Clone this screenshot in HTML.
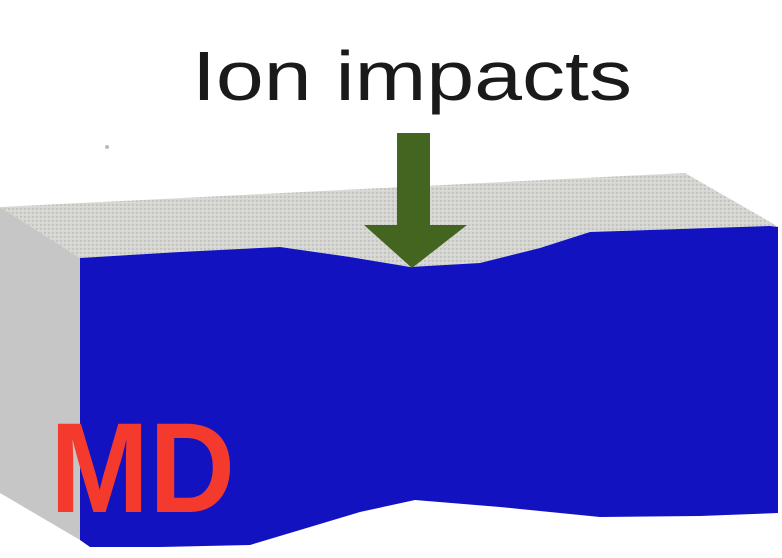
<!DOCTYPE html>
<html><head><meta charset="utf-8"><style>
html,body{margin:0;padding:0;background:#fff;width:782px;height:558px;overflow:hidden}
</style></head><body>
<svg width="782" height="558" viewBox="0 0 782 558">
  <defs>
    <pattern id="grain" width="4" height="4" patternUnits="userSpaceOnUse">
      <rect width="4" height="4" fill="#d6d6d2"/>
      <rect x="0" y="0" width="2" height="2" fill="#c4c4c0"/>
      <rect x="2" y="2" width="1" height="1" fill="#e6e6e2"/>
    </pattern>
  </defs>
  <text x="192" y="100" textLength="440" lengthAdjust="spacingAndGlyphs" font-family="Liberation Sans, sans-serif" font-size="70" fill="#1a1a1a">Ion impacts</text>
  <circle cx="107" cy="147" r="2" fill="#bbb"/>
  <polygon points="0,207 685,173 772,223 778,227 680,229 590,232 540,248 480,263 410,267 350,257 280,247 80,258" fill="url(#grain)"/>
  <polygon points="0,207 80,258 80,540 0,493" fill="#c6c6c6"/>
  <polygon points="80,258 180,252 280,247 350,257 410,267 480,263 540,248 590,232 680,229 770,226 778,227 778,513 700,516 600,517 500,507 415,500 360,512 310,527 250,545 160,547 90,547 80,540" fill="#1212c0"/>
  <polygon points="397,133 430,133 430,225 467,225 412,268 364,225 397,225" fill="#44651f"/>
  <text x="50" y="512" textLength="185" lengthAdjust="spacingAndGlyphs" font-family="Liberation Sans, sans-serif" font-weight="bold" font-size="128" fill="#f33a2c">MD</text>
</svg>
</body></html>
